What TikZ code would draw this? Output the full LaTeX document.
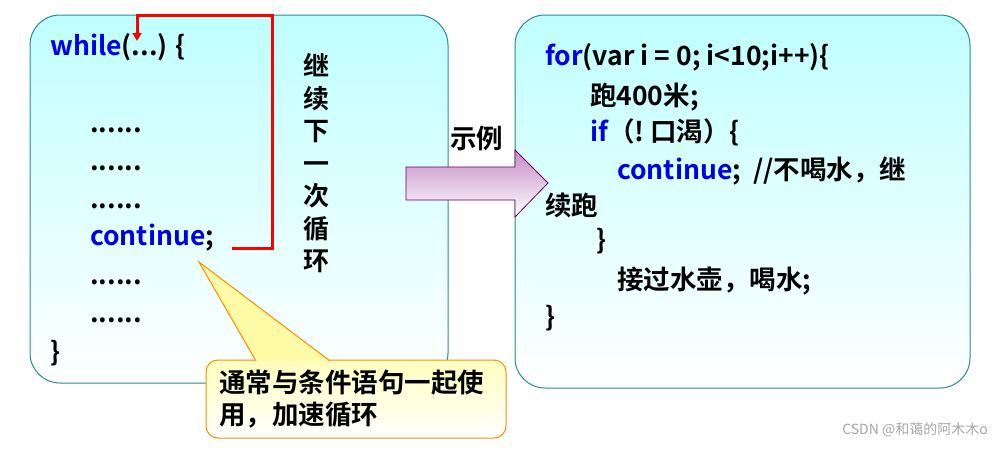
\documentclass[tikz,border=0pt]{standalone}
\usepackage{fontspec}
\setmainfont{Noto Sans CJK SC}[BoldFont={* Bold}]
\usetikzlibrary{arrows.meta}
\definecolor{kw}{RGB}{0,0,230}
\definecolor{tealb}{RGB}{40,140,140}
\tikzset{
  panel/.style={draw=tealb,line width=1pt,rounded corners=30pt,top color=cyan!25,bottom color=white},
  code/.style={anchor=west,inner sep=0pt,font=\bfseries\fontsize{26.5}{29}\selectfont},
  loopline/.style={draw=red,line width=3pt},
}
\begin{document}
\begin{tikzpicture}[x=1pt,y=-1pt]
\useasboundingbox (0,0) rectangle (1001,448);
\path[panel] (30,15) rectangle (448,383);
\path[panel] (515,15) rectangle (970,388);
% arrow
\path[draw=violet!80!black,line width=0.8pt,top color=violet!45,bottom color=white]
 (406,167) -- (515,167) -- (515,150) -- (548,183) -- (515,217) -- (515,200) -- (406,200) -- cycle;
\node[code] (ex) at (450,138) {示例};
% left code
\node[code] (w) at (50,47) {\textcolor{kw}{while}(...) \{};
\node[code] (d1) at (90,130) {......};
\node[code] (d2) at (90,168) {......};
\node[code] (d3) at (90,206) {......};
\node[code] (c) at (90,238) {\textcolor{kw}{continue};};
\node[code] (d4) at (90,282) {......};
\node[code] (d5) at (90,320) {......};
\node[code] (e) at (50,353) {\}};
% loop line
\coordinate (s) at (232,248);
\coordinate (t) at (137,41);
\draw[loopline,-{Triangle[length=8pt,width=9pt]}] (s) -- (272,248) -- (272,15) -- (137,15) -- (t);
\node[font=\bfseries\fontsize{26}{32.5}\selectfont,align=center,inner sep=0pt] (v) at (316,163) {继\\续\\下\\一\\次\\循\\环};
% callout
\path[draw=orange!90!yellow,line width=1pt,rounded corners=12pt,top color=yellow!25,bottom color=white] (206,360) rectangle (506,438);
\path[draw=orange!90!yellow,line width=1pt,fill=yellow!35] (256,361) -- (199,262) -- (330,361);
\path[fill=yellow!25] (257,362) -- (330,362) -- (330,366) -- (257,366) -- cycle;
\node[code,align=left,font=\bfseries\fontsize{26.5}{32}\selectfont] (cl) at (219,399) {通常与条件语句一起使\\用，加速循环};
% right code
\node[code] (r1) at (545,57) {\textcolor{kw}{for}(var i = 0; i<10;i++)\{};
\node[code] (r2) at (590,97) {跑400米;};
\node[code] (r3) at (590,132) {\textcolor{kw}{if}（!\ 口渴）\{};
\node[code] (r4) at (617,171) {\textcolor{kw}{continue};\ \ //不喝水，继};
\node[code] (r5) at (545,205) {续跑};
\node[code] (r6) at (596,241) {\}};
\node[code] (r7) at (617,281) {接过水壶，喝水;};
\node[code] (r8) at (545,318) {\}};
\node[anchor=east,inner sep=0pt,text=gray!70,font=\fontsize{14}{16}\selectfont] (wm) at (988,430) {CSDN @和蔼的阿木木o};
\end{tikzpicture}
\end{document}
